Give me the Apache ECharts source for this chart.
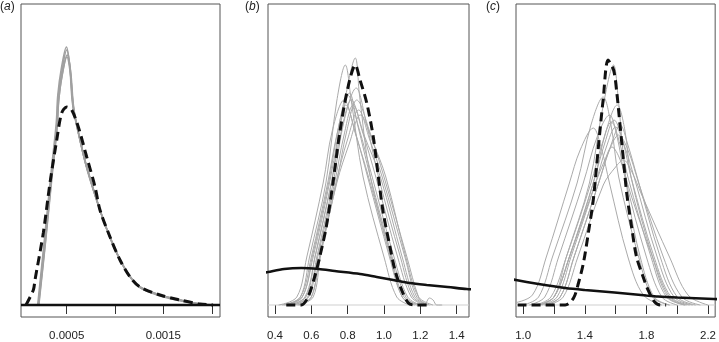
<!DOCTYPE html>
<html>
<head>
<meta charset="utf-8">
<script src="https://cdn.jsdelivr.net/npm/echarts@6/dist/echarts.min.js"></script>
<style>
html,body{margin:0;padding:0;background:#fff;}
#chart{width:719px;height:342px;}
</style>
</head>
<body>
<div id="chart"></div>
<script>
// ---------- panel labels ----------
var panelLetters = ['a', 'b', 'c'];

// ---------- x axis ranges, ticks and labels ----------
var xRangeA = [0.0000274, 0.002085];
var xRangeB = [0.3615, 1.4677];
var xRangeC = [0.9533, 2.2465];
var ticksA = [0.0005, 0.001, 0.0015, 0.002];
var labelsA = [0.0005, 0.0015];
var ticksB = [0.4, 0.6, 0.8, 1.0, 1.2, 1.4];
var labelsB = [0.4, 0.6, 0.8, 1.0, 1.2, 1.4];
var ticksC = [1.0, 1.2, 1.4, 1.6, 1.8, 2.0, 2.2];
var labelsC = [1.0, 1.4, 1.8, 2.2];

// ---------- panel (a): densities [x, relative density] ----------
var grayA1 = [[0.000206,0],[0.000276,65],[0.000345,132],[0.000397,180],[0.000413,208],[0.000448,232],[0.0005,255],[0.000534,238],[0.000568,198],[0.000638,165],[0.000707,138],[0.000844,95],[0.000948,68],[0.001051,45],[0.001155,28],[0.001258,18],[0.001465,10],[0.001672,5],[0.001878,1],[0.00205,0]];
var grayA2 = [[0.000212,0],[0.000282,64],[0.00035,130],[0.0004,176],[0.000418,205],[0.000452,230],[0.000505,250],[0.00054,234],[0.000574,196],[0.000645,162],[0.000715,134],[0.00085,93],[0.000955,66],[0.001058,44],[0.00116,28],[0.001265,17],[0.00147,9],[0.00168,4],[0.00189,1],[0.00206,0]];
var grayA3 = [[0.0002,0],[0.00027,66],[0.00034,134],[0.000392,182],[0.000408,210],[0.000444,236],[0.000497,258],[0.00053,240],[0.000562,200],[0.000632,167],[0.0007,140],[0.000838,97],[0.00094,69],[0.001045,46],[0.00115,29],[0.00125,18],[0.00146,10],[0.001665,5],[0.00187,1],[0.00204,0]];
var grayA4 = [[0.000209,0],[0.000279,63],[0.000348,131],[0.000399,178],[0.000416,204],[0.00045,228],[0.000502,248],[0.000537,232],[0.000571,197],[0.000641,164],[0.00071,137],[0.000846,94],[0.00095,67],[0.001055,45],[0.001158,28],[0.00126,18],[0.001468,10],[0.001675,5],[0.00188,1],[0.00205,0]];
var dashA = [[0.000079,0],[0.000155,15],[0.000172,25],[0.000258,72],[0.000327,122],[0.000397,165],[0.000448,192],[0.0005,198],[0.000552,195],[0.00062,178],[0.000707,148],[0.000793,118],[0.000844,95],[0.000948,68],[0.001051,45],[0.001155,28],[0.001258,18],[0.001465,10],[0.001672,5],[0.001878,1],[0.002013,0]];
var solidA = [[0.0000274,0],[0.002085,0]];

// ---------- panel (b) ----------
var grayB1 = [[0.42,0],[0.52,8],[0.575,48],[0.665,122],[0.715,174],[0.78,205],[0.84,174],[0.91,128],[1.03,48],[1.10,8],[1.17,0]];
var grayB2 = [[0.46,0],[0.54,8],[0.59,48],[0.68,122],[0.74,204],[0.787,240],[0.82,204],[0.885,128],[1.0,48],[1.07,8],[1.14,0]];
var grayB3 = [[0.47,0],[0.55,8],[0.61,48],[0.70,122],[0.79,210],[0.842,247],[0.865,210],[0.925,128],[1.04,48],[1.11,8],[1.2,0]];
var grayB4 = [[0.45,0],[0.55,8],[0.605,48],[0.695,122],[0.75,178],[0.80,210],[0.86,178],[0.935,128],[1.055,48],[1.13,8],[1.2,0]];
var grayB5 = [[0.48,0],[0.57,8],[0.62,48],[0.71,122],[0.765,174],[0.82,205],[0.88,174],[0.955,128],[1.075,48],[1.15,8],[1.22,0]];
var grayB6 = [[0.5,0],[0.58,8],[0.63,48],[0.72,122],[0.78,184],[0.847,217],[0.9,184],[0.97,128],[1.09,48],[1.16,8],[1.23,0]];
var grayB7 = [[0.5,0],[0.585,8],[0.635,48],[0.728,122],[0.78,170],[0.83,200],[0.89,170],[0.98,128],[1.1,48],[1.17,8],[1.24,0]];
var grayB8 = [[0.52,0],[0.6,8],[0.645,48],[0.735,122],[0.8,166],[0.86,195],[0.92,166],[0.99,128],[1.115,48],[1.18,8],[1.25,0]];
var grayB9 = [[0.48,0],[0.565,8],[0.62,48],[0.71,122],[0.76,180],[0.81,212],[0.855,180],[0.925,128],[1.045,48],[1.12,8],[1.18,0]];
var grayB10 = [[0.53,0],[0.6,8],[0.645,48],[0.738,122],[0.795,174],[0.85,205],[0.92,174],[1.0,128],[1.126,48],[1.19,8],[1.225,1],[1.25,7],[1.27,5],[1.29,0],[1.32,0]];
var grayB11 = [[0.44,0],[0.54,8],[0.6,48],[0.69,122],[0.74,170],[0.79,200],[0.845,170],[0.915,128],[1.035,48],[1.1,8],[1.16,0]];
var grayB12 = [[0.53,0],[0.61,8],[0.65,48],[0.74,122],[0.81,162],[0.87,190],[0.94,162],[1.01,128],[1.12,48],[1.19,8],[1.27,0]];
var dashB = [[0.462,0],[0.545,0],[0.582,8],[0.618,28],[0.646,48],[0.682,78],[0.719,122],[0.756,172],[0.802,218],[0.842,240],[0.868,225],[0.905,202],[0.941,168],[0.969,128],[0.996,92],[1.033,58],[1.060,35],[1.097,15],[1.134,2],[1.165,0],[1.235,0]];
var solidB = [[0.30,31],[0.361,33],[0.45,36],[0.545,37],[0.64,36],[0.729,34],[0.868,31],[0.96,28],[1.051,25],[1.14,22],[1.235,20],[1.35,18],[1.455,16],[1.50,15.5]];

// ---------- panel (c) ----------
var grayC1 = [[0.94,2],[1.06,10],[1.15,48],[1.30,122],[1.37,155],[1.455,177],[1.51,155],[1.56,122],[1.68,48],[1.78,10],[1.9,0]];
var grayC2 = [[1.0,0],[1.1,8],[1.19,48],[1.35,122],[1.44,180],[1.519,208],[1.57,180],[1.62,128],[1.75,48],[1.84,8],[1.95,0]];
var grayC3 = [[1.1,0],[1.2,8],[1.28,48],[1.43,122],[1.52,200],[1.587,240],[1.615,210],[1.65,150],[1.69,100],[1.76,48],[1.85,8],[1.95,0]];
var grayC4 = [[1.08,0],[1.18,8],[1.28,48],[1.44,122],[1.51,160],[1.572,183],[1.63,160],[1.68,128],[1.83,48],[1.93,8],[2.05,0]];
var grayC5 = [[1.1,0],[1.2,8],[1.3,48],[1.455,122],[1.53,162],[1.59,185],[1.65,162],[1.70,128],[1.85,48],[1.96,8],[2.08,0]];
var grayC6 = [[1.12,0],[1.22,8],[1.31,48],[1.47,122],[1.54,158],[1.60,178],[1.66,158],[1.72,128],[1.87,48],[1.98,8],[2.1,0]];
var grayC7 = [[1.1,0],[1.2,8],[1.3,48],[1.47,122],[1.53,145],[1.576,158],[1.63,145],[1.70,110],[1.84,48],[1.95,8],[2.06,0]];
var grayC8 = [[1.14,0],[1.24,8],[1.33,48],[1.49,122],[1.57,160],[1.63,180],[1.68,160],[1.74,128],[1.89,48],[2.0,8],[2.12,0]];
var grayC9 = [[1.16,0],[1.26,8],[1.355,48],[1.52,120],[1.6,138],[1.651,145],[1.70,135],[1.77,110],[1.95,48],[2.07,10],[2.2,0]];
var grayC10 = [[1.04,0],[1.14,8],[1.23,48],[1.39,122],[1.48,168],[1.56,190],[1.61,168],[1.66,128],[1.8,48],[1.9,8],[2.0,0]];
var grayC11 = [[1.1,0],[1.2,8],[1.3,48],[1.455,122],[1.54,175],[1.61,200],[1.66,175],[1.70,128],[1.84,48],[1.94,8],[2.05,0]];
var grayC12 = [[1.14,0],[1.24,8],[1.33,48],[1.49,122],[1.56,155],[1.62,170],[1.68,155],[1.75,122],[1.91,48],[2.03,8],[2.15,0]];
var dashC = [[0.964,0],[1.273,0],[1.327,7],[1.359,22],[1.391,42],[1.423,72],[1.455,105],[1.476,138],[1.497,172],[1.519,205],[1.551,245],[1.587,235],[1.608,212],[1.630,178],[1.651,145],[1.672,112],[1.704,78],[1.736,48],[1.779,28],[1.811,15],[1.854,3],[1.89,0],[1.928,0]];
var solidC = [[0.90,27],[0.953,25],[1.1,21],[1.273,17],[1.4,15],[1.593,12.5],[1.8,9.5],[1.875,8.5],[2.0,7.5],[2.238,6],[2.3,5.5]];

// ---------- build ----------
var FONT = '"Liberation Sans", Arial, Helvetica, sans-serif';
var grays = [
  [grayA1, grayA2, grayA3, grayA4],
  [grayB1, grayB2, grayB3, grayB4, grayB5, grayB6, grayB7, grayB8, grayB9, grayB10, grayB11, grayB12],
  [grayC1, grayC2, grayC3, grayC4, grayC5, grayC6, grayC7, grayC8, grayC9, grayC10, grayC11, grayC12]
];
var dashes = [dashA, dashB, dashC];
var solids = [solidA, solidB, solidC];
var ranges = [xRangeA, xRangeB, xRangeC];
var ticks = [ticksA, ticksB, ticksC];
var labels = [labelsA, labelsB, labelsC];
var fmts = [function (v) { return String(+v.toFixed(4)); }, function (v) { return v.toFixed(1); }, function (v) { return v.toFixed(1); }];
var gridBoxes = [{left: 21, width: 199}, {left: 268, width: 201}, {left: 516, width: 202}];
var labelX = [0, 245, 486];

var grid = [], xAxis = [], yAxis = [], series = [], graphic = [];
for (var i = 0; i < 3; i++) {
  grid.push({left: gridBoxes[i].left, width: gridBoxes[i].width, top: 4, height: 313,
    show: true, borderColor: '#555', borderWidth: 1, backgroundColor: 'transparent'});
  xAxis.push({
    gridIndex: i, type: 'value', min: ranges[i][0], max: ranges[i][1],
    axisLine: {show: false}, splitLine: {show: false},
    axisTick: {show: true, length: 9, customValues: ticks[i], lineStyle: {color: '#333', width: 1}},
    axisLabel: {customValues: labels[i], margin: 13, fontSize: 11.5, color: '#222', fontFamily: FONT, formatter: fmts[i]}
  });
  yAxis.push({gridIndex: i, type: 'value', min: -12, max: 301, show: false});
  // zero reference line
  series.push({type: 'line', xAxisIndex: i, yAxisIndex: i, symbol: 'none', silent: true,
    data: [[ranges[i][0], 0], [ranges[i][1], 0]], lineStyle: {color: '#cfcfcf', width: 1}});
  grays[i].forEach(function (g) {
    series.push({type: 'line', xAxisIndex: i, yAxisIndex: i, symbol: 'none', smooth: 0.35, silent: true,
      data: g, lineStyle: {color: i === 0 ? '#a0a0a0' : '#aaaaaa', width: i === 0 ? 1.6 : 1}});
  });
  series.push({type: 'line', xAxisIndex: i, yAxisIndex: i, symbol: 'none', smooth: 0.3, silent: true,
    data: solids[i], lineStyle: {color: '#111', width: 2.6}});
  series.push({type: 'line', xAxisIndex: i, yAxisIndex: i, symbol: 'none', smooth: 0.3, silent: true,
    data: dashes[i], lineStyle: {color: '#111', width: 3, type: [9, 5], cap: 'butt'}});
  graphic.push({type: 'text', left: labelX[i], top: 1,
    style: {text: '{p|(}{i|' + panelLetters[i] + '}{p|)}',
      rich: {p: {fontSize: 12, fontFamily: FONT, fill: '#222'}, i: {fontSize: 12, fontStyle: 'italic', fontFamily: FONT, fill: '#222'}}}});
}

var chart = echarts.init(document.getElementById('chart'), null, {renderer: 'canvas'});
chart.setOption({animation: false, grid: grid, xAxis: xAxis, yAxis: yAxis, series: series, graphic: graphic});
</script>
</body>
</html>
